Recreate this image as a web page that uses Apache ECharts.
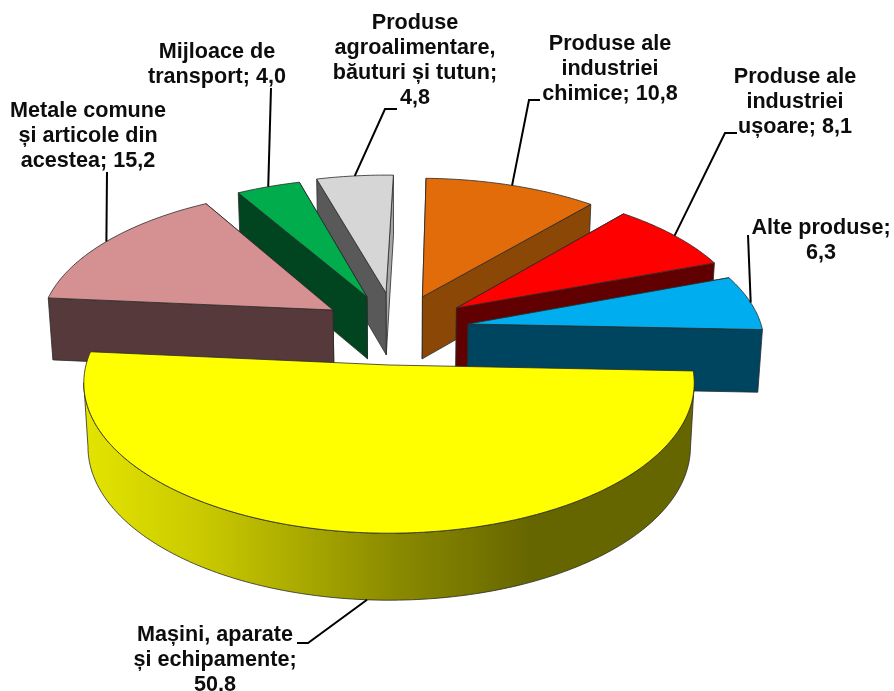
<!DOCTYPE html>
<html>
<head>
<meta charset="utf-8">
<style>html,body{margin:0;padding:0;background:#fff}#c{width:894px;height:691px}</style>
<script src="https://cdn.jsdelivr.net/npm/echarts@6/dist/echarts.min.js"></script>
</head>
<body>
<div id="c"></div>
<script>
// ---- data, in clockwise pie order ----
var categories = [
  'Mașini, aparate\nși echipamente',
  'Metale comune\nși articole din\nacestea',
  'Mijloace de\ntransport',
  'Produse\nagroalimentare,\nbăuturi și tutun',
  'Produse ale\nindustriei\nchimice',
  'Produse ale\nindustriei\nușoare',
  'Alte produse'
];
var values = [50.8, 15.2, 4.0, 4.8, 10.8, 8.1, 6.3];
var labelSeparators = [';\n', '; ', '; ', ';\n', '; ', '; ', ';\n'];

// ---- styles ----
var topColors  = ['#ffff00', '#d59191', '#00ac4c', '#d6d6d6', '#e26c09', '#ff0000', '#00aeef'];
var sideColors = ['#666600', '#563a3b', '#00451f', '#595959', '#8a4705', '#600000', '#00455f'];
var paintOrder = [3, 2, 1, 4, 5, 6, 0];

// ---- exploded-pie layout: slice offsets on the pie plane, label anchors ----
var explodeX = [0, -0.1934, -0.0768, -0.0105, 0.1168, 0.2335, 0.2697];
var explodeY = [0, 0.389, 0.487, 0.5166, 0.487, 0.4037, 0.2865];
var labelAt  = [[215, 660], [88, 136], [217, 65], [415, 61], [610, 69], [795, 102], [821, 241]];
var elbows   = [[[297, 643], [308, 643]], [[107, 172], [107, 172]], [[271, 88], [271, 88]],
                [[397, 109], [385, 109]], [[540, 100], [529, 100]], [[737, 133], [725, 133]],
                [[748, 235], [748, 235]]];

// ---- projection of the pie plane onto the screen ----
var originX = 389, originY = 365, scaleX = 303, scaleY = 148, persp = 0.12;
var startAngle = -2.3, wallCentreX = 405, wallShrink = 0.987;

function project(X, Y) {
  var w = 1 + persp * Y;
  return [originX + scaleX * X / w, originY - scaleY * Y / w];
}
function dropWall(p) {
  return [wallCentreX + (p[0] - wallCentreX) * wallShrink, p[1] + 62 + (p[1] - 300) * 0.0215];
}
var total = values.reduce(function (a, b) { return a + b; }, 0);
var angleFrom = [], acc = startAngle;
values.forEach(function (v) { angleFrom.push(acc); acc -= v / total * 360; });

function rim(i, deg) {
  var t = deg * Math.PI / 180;
  return project(explodeX[i] + Math.cos(t), explodeY[i] + Math.sin(t));
}
function sliceShapes(i) {
  var a0 = angleFrom[i], sweep = values[i] / total * 360, n = Math.max(12, Math.round(sweep));
  var arc = [];
  for (var k = 0; k <= n; k++) arc.push(rim(i, a0 - sweep * k / n));
  return { arc: arc, apex: project(explodeX[i], explodeY[i]), mid: a0 - sweep / 2 };
}
var yellowWall = {
  type: 'linear', x: 85, y: 0, x2: 695, y2: 0, global: true,
  colorStops: [
    { offset: 0, color: '#e4e400' }, { offset: 0.2, color: '#c8c800' },
    { offset: 0.5, color: '#8c8c00' }, { offset: 0.73, color: '#666600' }, { offset: 1, color: '#666600' }
  ]
};
function renderItem(params, api) {
  var i = params.dataIndex, s = sliceShapes(i), z = paintOrder.indexOf(i) * 10;
  var wall = i === 0 ? yellowWall : sideColors[i];
  function poly(pts, fill, zz) {
    return { type: 'polygon', z2: z + zz, shape: { points: pts },
      style: { fill: fill, stroke: '#2a2a2a', lineWidth: 0.8, lineJoin: 'round' } };
  }
  var first = s.arc[0], last = s.arc[s.arc.length - 1];
  var bApex = dropWall(s.apex);
  var children = [];
  if (i === 0) {
    // curved front wall, between the left and right extremes of the rim
    var hi = 0, lo = 0;
    s.arc.forEach(function (p, k) {
      if (p[0] > s.arc[hi][0]) hi = k;
      if (p[0] < s.arc[lo][0]) lo = k;
    });
    var rimPart = s.arc.slice(hi, lo + 1);
    children.push(poly(rimPart.concat(rimPart.map(dropWall).reverse()), yellowWall, 2));
  } else {
    // flat cut walls: the one whose rim end sits lower on screen is nearer and goes on top
    var lastNearer = last[1] > first[1];
    children.push(poly([s.apex, last, dropWall(last), bApex], i === 3 ? '#a6a6a6' : wall, lastNearer ? 1 : 0));
    children.push(poly([s.apex, first, dropWall(first), bApex], wall, lastNearer ? 0 : 1));
  }
  children.push(poly([s.apex].concat(s.arc), topColors[i], 4));
  var v = api.value(1);
  var anchor = rim(i, s.mid);
  if (i === 0) anchor = dropWall(anchor);
  children.push({
    type: 'polyline', z2: 200,
    shape: { points: [elbows[i][0], elbows[i][1], anchor] },
    style: { fill: null, stroke: '#000', lineWidth: 2 }
  });
  children.push({
    type: 'text', z2: 210,
    style: {
      text: categories[i] + labelSeparators[i] + v.toFixed(1).replace('.', ','),
      x: labelAt[i][0], y: labelAt[i][1], align: 'center', verticalAlign: 'middle',
      font: 'bold 21.6px "Liberation Sans"', lineHeight: 25, fill: '#0d0d0d'
    }
  });
  return { type: 'group', children: children };
}
var chart = echarts.init(document.getElementById('c'), null, { renderer: 'canvas' });
chart.setOption({
  animation: false,
  backgroundColor: '#fff',
  series: [{
    type: 'custom',
    coordinateSystem: 'none',
    renderItem: renderItem,
    data: values.map(function (v, i) { return [i, v]; })
  }]
});
</script>
</body>
</html>
